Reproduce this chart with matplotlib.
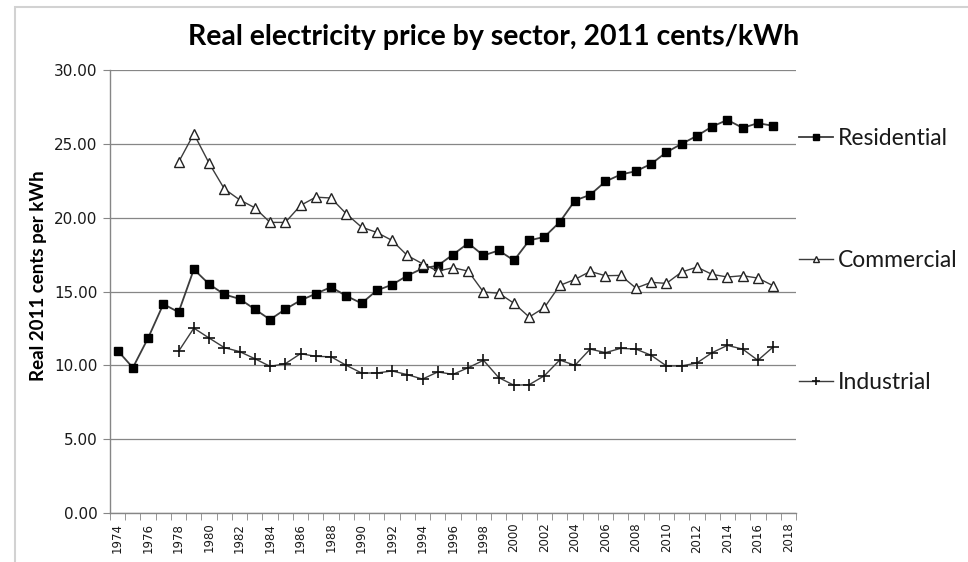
import numpy as np
import matplotlib.pyplot as plt
from matplotlib.patches import Rectangle

# data (2011 cents/kWh)
years = list(range(1974, 2018))
residential = [11.0, 9.84, 11.85, 14.15, 13.6, 16.5, 15.5, 14.8, 14.5, 13.8,
               13.1, 13.8, 14.4, 14.85, 15.3, 14.7, 14.2, 15.07, 15.46, 16.07,
               16.56, 16.75, 17.5, 18.27, 17.44, 17.78, 17.1, 18.46, 18.7, 19.7,
               21.16, 21.55, 22.45, 22.92, 23.15, 23.64, 24.43, 25.0, 25.54, 26.17,
               26.62, 26.08, 26.4, 26.22]
commercial = [np.nan] * 4 + [
    23.76, 25.68, 23.69, 21.95, 21.21, 20.67, 19.68, 19.68, 20.83, 21.39,
    21.33, 20.26, 19.36, 19.0, 18.46, 17.44, 16.88, 16.38, 16.61, 16.38,
    14.96, 14.89, 14.2, 13.27, 13.92, 15.41, 15.82, 16.36, 16.07, 16.09,
    15.23, 15.62, 15.55, 16.32, 16.65, 16.16, 15.98, 16.07, 15.91, 15.39]
industrial = [np.nan] * 4 + [
    10.95, 12.52, 11.85, 11.2, 10.93, 10.45, 9.93, 10.11, 10.79, 10.61,
    10.58, 10.0, 9.48, 9.48, 9.62, 9.37, 9.07, 9.55, 9.39, 9.84,
    10.34, 9.17, 8.65, 8.69, 9.3, 10.36, 10.0, 11.1, 10.86, 11.15,
    11.1, 10.68, 9.96, 9.96, 10.16, 10.86, 11.35, 11.1, 10.34, 11.24]
tick_years = list(range(1974, 2019, 2))

line_col = '#3c3c3c'
axis_col = '#868686'
text_col = '#1a1a1a'

fig = plt.figure(figsize=(9.68, 5.62), dpi=100)
ax = fig.add_axes([110 / 968, 1 - 513 / 562, 686 / 968, 443 / 562])

ax.plot(years, residential, color=line_col, lw=1.3, marker='s', ms=6,
        mfc='black', mec='black', label='Residential', zorder=3)
ax.plot(years, commercial, color=line_col, lw=1.0, marker='^', ms=7,
        mfc='white', mec='#222222', mew=1.0, label='Commercial', zorder=3)
ax.plot(years, industrial, color=line_col, lw=1.0, marker='+', ms=8,
        mec='#111111', mew=1.2, label='Industrial', zorder=3)

ax.set_xlim(1973.5, 2018.5)
ax.set_ylim(0, 30)
ax.set_yticks(np.arange(0, 31, 5))
ax.set_yticklabels(['%.2f' % v for v in np.arange(0, 31, 5)],
                   fontsize=11, color=text_col, family='DejaVu Sans')
ax.yaxis.grid(True, color=axis_col, lw=0.9)
ax.set_axisbelow(True)

ax.set_xticks(tick_years)
ax.set_xticklabels([str(y) for y in tick_years], rotation=90, fontsize=8.5,
                   color=text_col, family='DejaVu Sans')
ax.set_xticks(np.arange(1973.5, 2019, 1), minor=True)
ax.tick_params(axis='x', which='major', length=0, pad=7)
ax.tick_params(axis='x', which='minor', length=5, color=axis_col, direction='out')
ax.tick_params(axis='y', length=5, color=axis_col, direction='out', pad=4)

for s in ['top', 'right']:
    ax.spines[s].set_visible(False)
for s in ['left', 'bottom']:
    ax.spines[s].set_color(axis_col)
    ax.spines[s].set_linewidth(1.0)

ax.set_ylabel('Real 2011 cents per kWh', fontsize=13.5, fontweight='bold',
              family='Lato', color='black')
ax.yaxis.set_label_coords(-0.092, 0.535)

fig.text(494 / 968, 1 - 37 / 562, 'Real electricity price by sector, 2011 cents/kWh',
         ha='center', va='center', fontsize=20.5, fontweight='bold',
         family='Lato', color='black')

leg = ax.legend(loc='upper left', bbox_to_anchor=(799 / 968, 1 - 128 / 562),
                bbox_transform=fig.transFigure, frameon=False,
                prop={'family': 'Lato', 'size': 16.5}, labelspacing=4.4,
                handlelength=1.5, handletextpad=0.2, markerscale=0.7,
                borderpad=0, borderaxespad=0)
for t in leg.get_texts():
    t.set_color(text_col)

# light chart-area frame, cut off by the screenshot at right and bottom
fig.add_artist(Rectangle((15 / 968, -0.5), 2, 0.5 + 1 - 7 / 562,
                         transform=fig.transFigure, fill=False,
                         ec='#d2d2d2', lw=1.5))

fig.savefig('out.png', dpi=100)
